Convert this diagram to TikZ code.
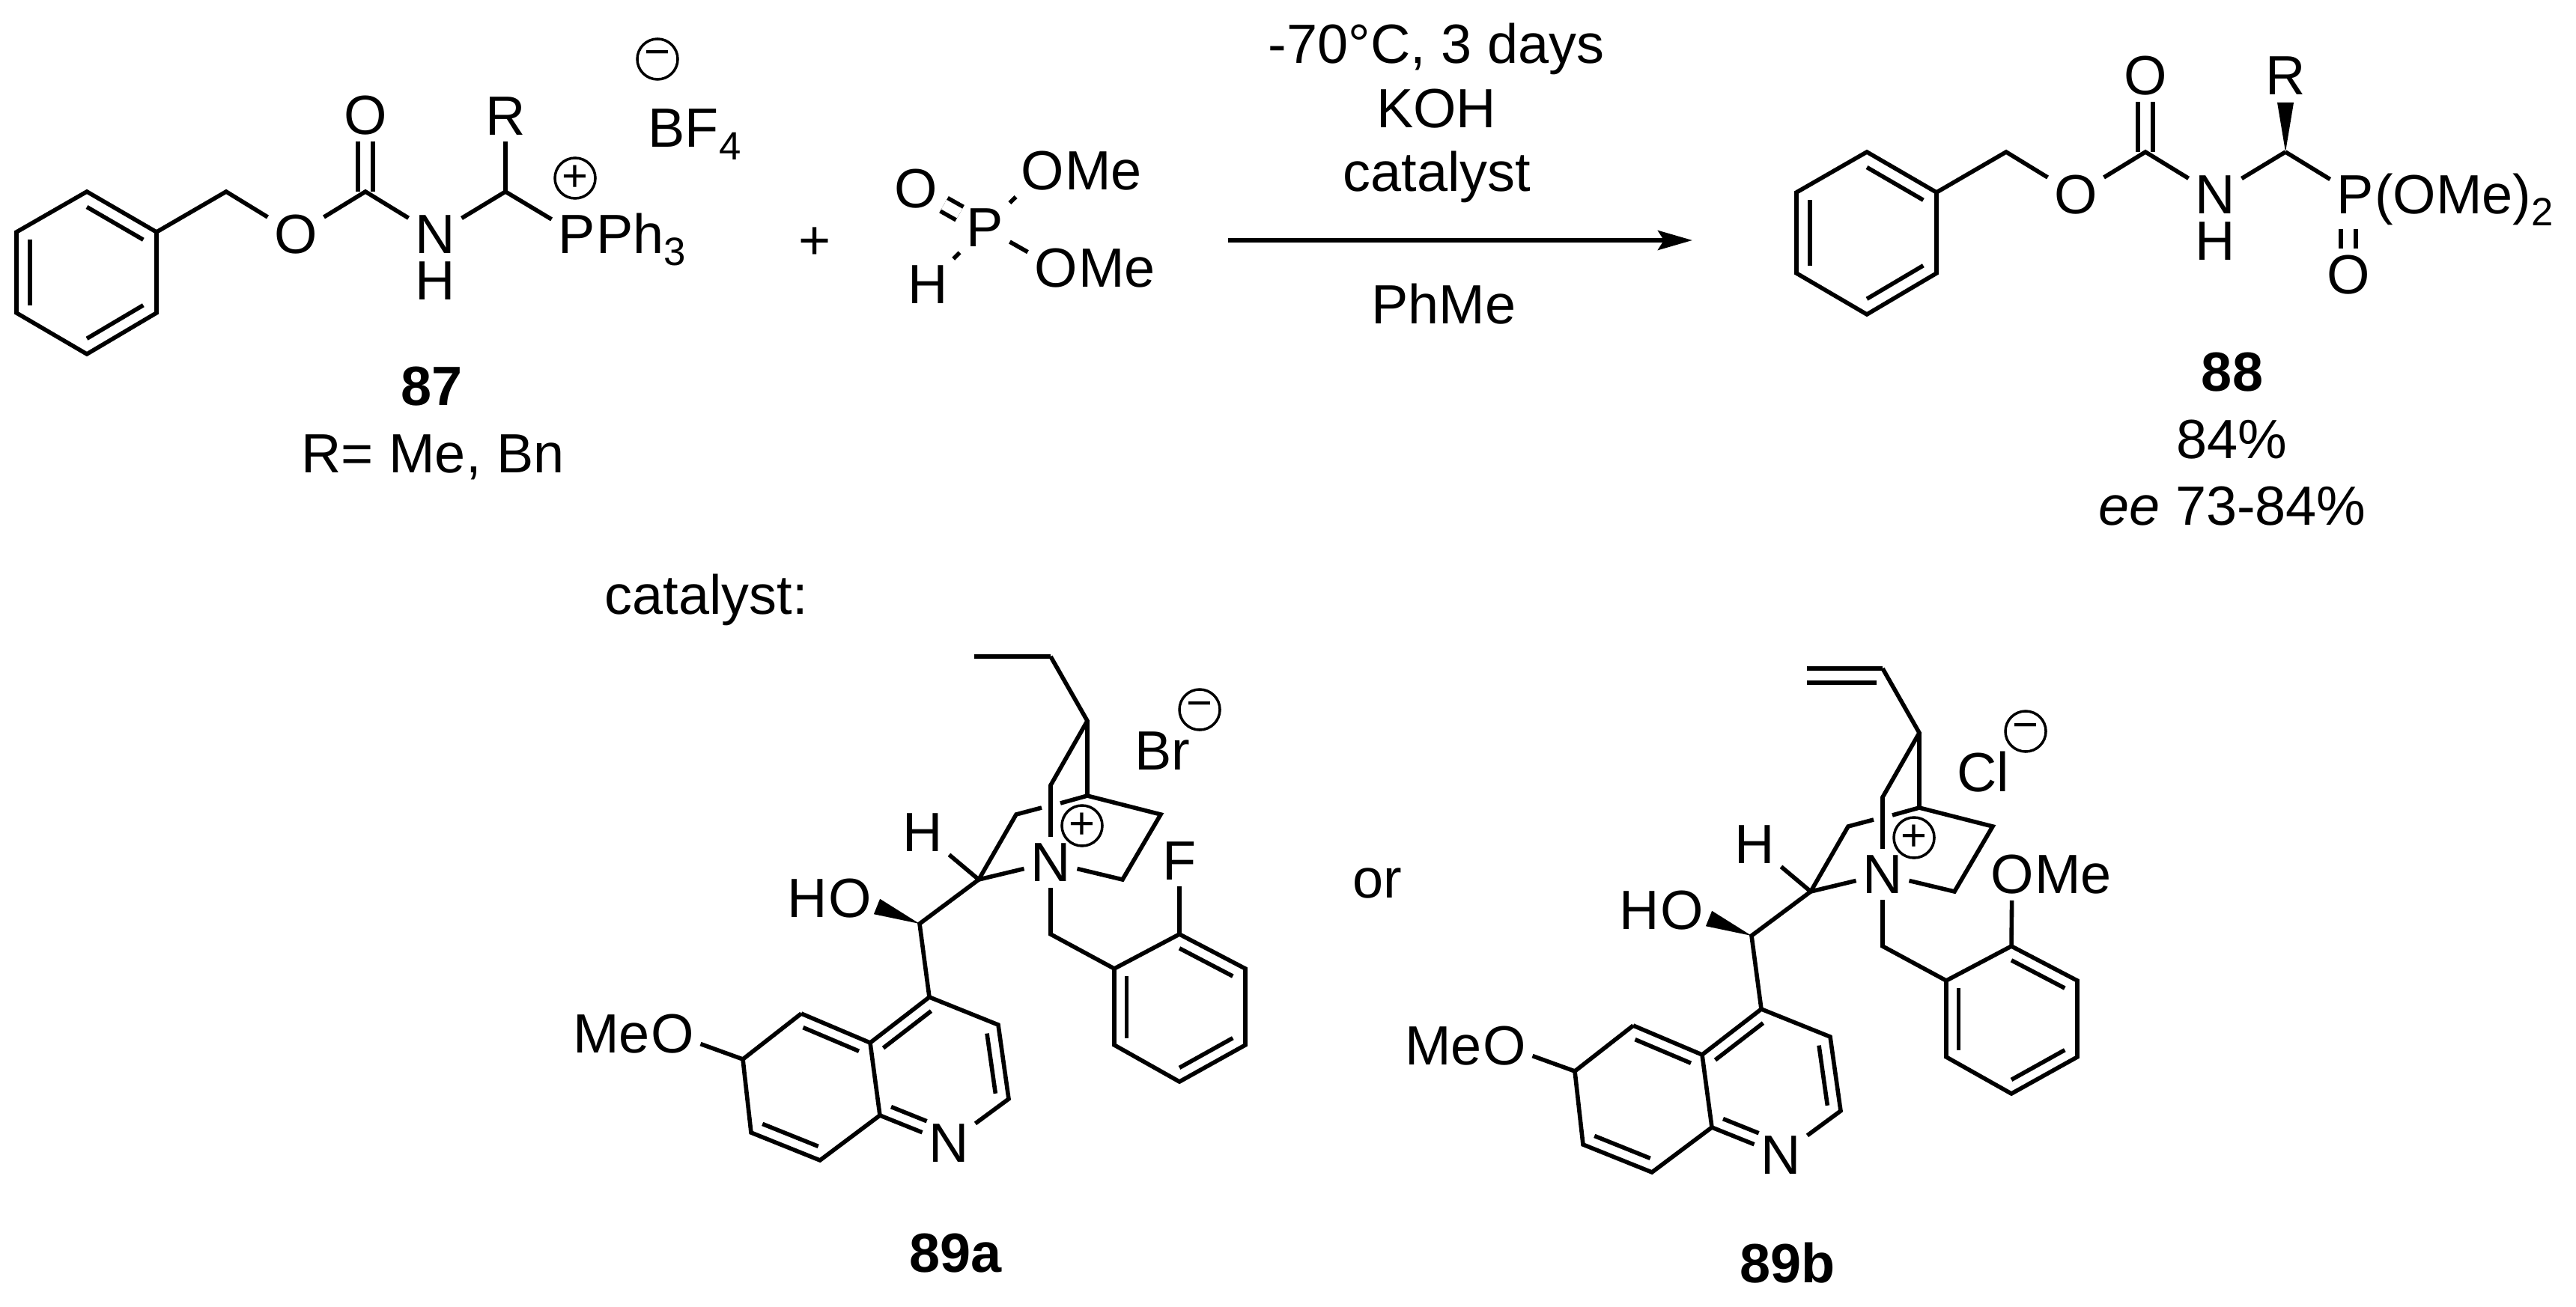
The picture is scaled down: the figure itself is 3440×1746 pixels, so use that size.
\documentclass[tikz,border=0pt]{standalone}
\usepackage{fontspec}
\setmainfont{Liberation Sans}
\usetikzlibrary{calc,arrows.meta}
\def\chemfont{\fontsize{21pt}{25pt}\selectfont}
\def\lowidx#1{\raisebox{-0.22em}{\fontsize{15pt}{15pt}\selectfont #1}}
\def\ringbond(#1)(#2)(#3){\draw[bond] ($(#1)!.19!(#3)$) -- ($(#2)!.19!(#3)$);}
\def\wedgebond(#1)(#2){\fill (#1) -- ($(#2)!0.11cm!90:(#1)$) -- ($(#2)!0.11cm!-90:(#1)$) -- cycle;}
\tikzset{
	bond/.style={line width=0.056cm},
	dbond/.style={bond, double, double distance=0.144cm},
	atom/.style={inner sep=2.3pt},
	tailr/.style={inner sep=0pt, anchor=base west, xshift=-2.3pt},
	taill/.style={inner sep=0pt, anchor=base east, xshift=2.3pt},
	capt/.style={inner sep=0pt, anchor=base},
	charge/.style={circle, draw, line width=0.035cm, inner sep=0pt, minimum size=0.54cm, font=\fontsize{17pt}{18pt}\selectfont}
}
% benzyl carbamate part of 87 and 88
\def\cbzchain#1{
	\coordinate (#1a) at (116,256);
	\coordinate (#1b) at (209,310);
	\coordinate (#1c) at (209,418);
	\coordinate (#1d) at (116,473);
	\coordinate (#1e) at (22,418);
	\coordinate (#1f) at (22,310);
	\coordinate (#1m) at (116,364);
	\coordinate (#1ch) at (302,256);
	\coordinate (#1co) at (488,256);
	\coordinate (#1cr) at (675,256);
	\node[atom] (#1oa) at (395,313) {O};
	\node[atom] (#1ob) at (488,154) {O};
	\node[atom] (#1n) at (581,313) {N};
	\node[atom] (#1h) at (581,375) {H};
	\draw[bond] (#1a) -- (#1b) -- (#1c) -- (#1d) -- (#1e) -- (#1f) -- cycle;
	\ringbond(#1a)(#1b)(#1m)
	\ringbond(#1c)(#1d)(#1m)
	\ringbond(#1e)(#1f)(#1m)
	\draw[dbond] (#1co) -- (#1ob);
	\draw[bond] (#1b) -- (#1ch) -- (#1oa);
	\draw[bond] (#1oa) -- (#1co) -- (#1n);
	\draw[bond] (#1n) -- (#1cr);
}
% ammonium salt part of 89a and 89b
\def\catcore#1{
	\coordinate (#1e) at (1403,877);
	\coordinate (#1ca) at (1452,963);
	\coordinate (#1cb) at (1403,1049);
	\coordinate (#1cc) at (1452,1063);
	\coordinate (#1cd) at (1550,1088);
	\coordinate (#1ce) at (1499,1175);
	\coordinate (#1gr) at (1416,1073);
	\coordinate (#1gl) at (1391,1079);
	\coordinate (#1cf) at (1357,1088);
	\coordinate (#1cg) at (1307,1175);
	\coordinate (#1ci) at (1228,1234);
	\coordinate (#1wd) at (1171,1211);
	\coordinate (#1qa) at (1241,1332);
	\coordinate (#1qb) at (1333,1369);
	\coordinate (#1qc) at (1347,1468);
	\coordinate (#1qd) at (1175,1490);
	\coordinate (#1qe) at (1162,1393);
	\coordinate (#1qf) at (1070,1354);
	\coordinate (#1qg) at (992,1415);
	\coordinate (#1qi) at (1003,1513);
	\coordinate (#1qj) at (1095,1550);
	\coordinate (#1qm) at (1254,1430);
	\coordinate (#1qk) at (1083,1452);
	\coordinate (#1bz) at (1403,1248);
	\coordinate (#1ra) at (1575,1248);
	\coordinate (#1rb) at (1663,1294);
	\coordinate (#1rc) at (1663,1396);
	\coordinate (#1rd) at (1575,1445);
	\coordinate (#1re) at (1488,1396);
	\coordinate (#1rf) at (1488,1294);
	\coordinate (#1rm) at (1575,1347);
	\node[atom] (#1n) at (1403,1152) {N};
	\node[charge] (#1pl) at (1445,1103) {+};
	\node[atom] (#1hy) at (1232,1112) {H};
	\node[atom] (#1oh) at (1135,1200) {O};
	\node[taill] (#1ohh) at (#1oh.base west) {H};
	\node[atom] (#1qn) at (1267,1527) {N};
	\node[atom] (#1om) at (898,1381) {O};
	\node[taill] (#1ome) at (#1om.base west) {Me};
	\draw[bond] (#1e) -- (#1ca) -- (#1cb) -- (#1n);
	\draw[bond] (#1ca) -- (#1cc) -- (#1cd) -- (#1ce) -- (#1n);
	\draw[bond] (#1cc) -- (#1gr);
	\draw[bond] (#1gl) -- (#1cf) -- (#1cg) -- (#1n);
	\draw[bond] (#1hy) -- (#1cg) -- (#1ci) -- (#1qa);
	\wedgebond(#1ci)(#1wd)
	\draw[bond] (#1qf) -- (#1qe) -- (#1qa) -- (#1qb) -- (#1qc) -- (#1qn);
	\draw[bond] (#1qn) -- (#1qd) -- (#1qe);
	\draw[bond] (#1qf) -- (#1qg) -- (#1qi) -- (#1qj) -- (#1qd);
	\ringbond(#1qa)(#1qe)(#1qm)
	\ringbond(#1qb)(#1qc)(#1qm)
	\draw[bond, shorten >=0.29cm] ($(#1qd)!.19!(#1qm)$) -- ($(#1qn)!.19!(#1qm)$);
	\ringbond(#1qe)(#1qf)(#1qk)
	\ringbond(#1qi)(#1qj)(#1qk)
	\draw[bond] (#1om) -- (#1qg);
	\draw[bond] (#1n) -- (#1bz) -- (#1rf);
	\draw[bond] (#1ra) -- (#1rb) -- (#1rc) -- (#1rd) -- (#1re) -- (#1rf) -- cycle;
	\ringbond(#1ra)(#1rb)(#1rm)
	\ringbond(#1rc)(#1rd)(#1rm)
	\ringbond(#1re)(#1rf)(#1rm)
}

\begin{document}
\begin{tikzpicture}[x=0.01cm, y=-0.01cm, font=\chemfont]
	%%%%% START %%%%%
	\useasboundingbox (0,0) rectangle (3440,1746);

	% 87
	\cbzchain{sm}
	\node[atom] (smr) at (675,155) {R};
	\node[atom] (smp) at (770,313) {P};
	\node[tailr] (smph) at (smp.base east) {Ph\lowidx{3}};
	\node[charge] (smpl) at (768,238) {+};
	\node[charge] (smmi) at (878,79) {−};
	\node[capt, anchor=base west] (smbf) at (865,197) {BF\lowidx{4}};
	\draw[bond] (smr) -- (smcr) -- (smp);
	\node[capt, font=\chemfont\bfseries] (smno) at (577,542) {87};
	\node[capt] (smsub) at (578,631) {R= Me, Bn};
	\node[capt] (plus) at (1088,347) {+};

	% phosphite
	\node[atom] (hpp) at (1315,304) {P};
	\node[atom] (hpo) at (1223,252) {O};
	\node[atom] (hph) at (1239,380) {H};
	\node[atom] (hpa) at (1392,228) {O};
	\node[tailr] (hpam) at (hpa.base east) {Me};
	\node[atom] (hpb) at (1410,358) {O};
	\node[tailr] (hpbm) at (hpb.base east) {Me};
	\draw[dbond] (hpp) -- (hpo);
	\draw[bond] (hpp) -- (hph);
	\draw[bond] (hpp) -- (hpa);
	\draw[bond] (hpp) -- (hpb);

	% reaction arrow
	\coordinate (arrowa) at (1640,321);
	\coordinate (arrowb) at (2260,321);
	\draw[line width=0.058cm, -{Stealth[length=0.46cm, width=0.26cm, inset=0.08cm]}] (arrowa) -- (arrowb);
	\node[capt] (conda) at (1918,85) {-70°C, 3 days};
	\node[capt] (condb) at (1918,171) {KOH};
	\node[capt] (condc) at (1919,256) {catalyst};
	\node[capt] (condd) at (1928,433) {PhMe};

	% 88
	\begin{scope}[shift={(2377,-53)}]
		\cbzchain{pr}
	\end{scope}
	\node[atom] (prr) at (3052,101) {R};
	\coordinate (prw) at (3052,137);
	\wedgebond(prcr)(prw)
	\node[atom] (prp) at (3145,260) {P};
	\node[tailr] (prpo) at (prp.base east) {(OMe)\lowidx{2}};
	\node[atom] (pro) at (3136,367) {O};
	\draw[dbond, shorten <=0.12cm] (prp.south -| pro) -- (pro);
	\draw[bond] (prcr) -- (prp);
	\node[capt, font=\chemfont\bfseries] (prno) at (2981,523) {88};
	\node[capt] (pryi) at (2980,613) {84\%};
	\node[capt] (pree) at (2981,701) {\textit{ee} 73-84\%};

	% catalysts
	\node[capt, anchor=base west] (catlab) at (807,820) {catalyst:};
	\node[capt, anchor=base west] (orlab) at (1806,1199) {or};

	\catcore{ca}
	\coordinate (caet) at (1301,877);
	\draw[bond] (caet) -- (cae);
	\node[atom] (cafl) at (1575,1150) {F};
	\draw[bond] (cafl) -- (cara);
	\node[capt] (cabr) at (1552,1028) {Br};
	\node[charge] (cami) at (1602,948) {−};
	\node[capt, font=\chemfont\bfseries] (cano) at (1276,1699) {89a};

	\begin{scope}[shift={(1111,16)}]
		\catcore{cb}
	\end{scope}
	\coordinate (cbva) at (2413,893);
	\coordinate (cbvb) at (2413,912);
	\coordinate (cbvc) at (2506,912);
	\draw[bond] (cbva) -- (cbe);
	\draw[bond] (cbvb) -- (cbvc);
	\node[atom] (cbom) at (2687,1168) {O};
	\node[tailr] (cbome) at (cbom.base east) {Me};
	\draw[bond] (cbom) -- (cbra);
	\node[capt] (cbcl) at (2648,1057) {Cl};
	\node[charge] (cbmi) at (2705,977) {−};
	\node[capt, font=\chemfont\bfseries] (cbno) at (2387,1713) {89b};
	%%%%% END %%%%%
\end{tikzpicture}
\end{document}
